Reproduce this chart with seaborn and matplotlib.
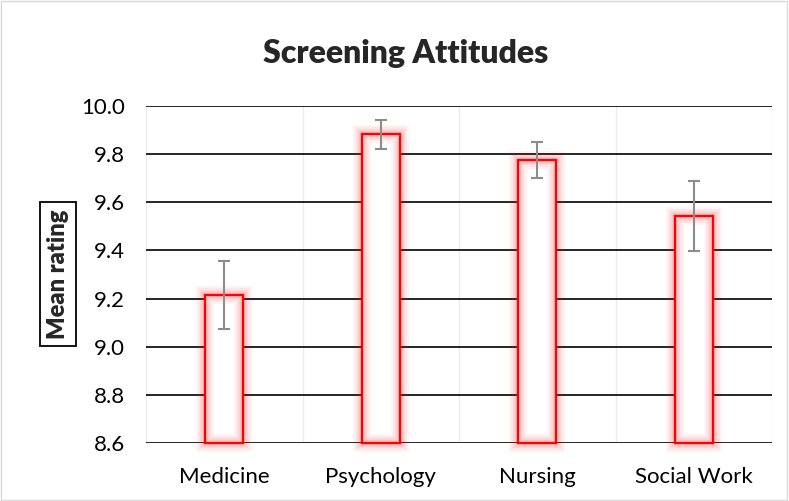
import numpy as np
import pandas as pd
import matplotlib
matplotlib.use("Agg")
import matplotlib.pyplot as plt
import matplotlib.patheffects as pe
from matplotlib.patches import Rectangle
from matplotlib.ticker import FixedLocator, FormatStrFormatter
import seaborn as sns

# datos
categorias = ["Medicine", "Psychology", "Nursing", "Social Work"]
medias = [9.215, 9.882, 9.776, 9.543]
errores = [0.142, 0.061, 0.074, 0.145]
ticks_y = [8.6, 8.8, 9.0, 9.2, 9.4, 9.6, 9.8, 10.0]

df = pd.DataFrame({"Grupo": categorias, "Media": medias})

sns.set_style("white")
plt.rcParams["font.family"] = ["Lato", "DejaVu Sans"]

fig = plt.figure(figsize=(7.89, 5.01), dpi=100)
ax = fig.add_axes([146 / 789, 1 - 443 / 501, (772 - 146) / 789, (443 - 106) / 501])

sns.barplot(data=df, x="Grupo", y="Media", color="white", width=0.24,
            edgecolor="none", linewidth=0, ax=ax, zorder=2)

ymin, ymax = ticks_y[0], ticks_y[-1]

# borde rojo con brillo
glow = [
    pe.Stroke(linewidth=13, foreground=(1, 0, 0, 0.045)),
    pe.Stroke(linewidth=10, foreground=(1, 0, 0, 0.06)),
    pe.Stroke(linewidth=7, foreground=(1, 0, 0, 0.08)),
    pe.Stroke(linewidth=4, foreground=(1, 0, 0, 0.1)),
    pe.Normal(),
]
for p in list(ax.patches):
    r = Rectangle((p.get_x(), ymin), p.get_width(), p.get_y() + p.get_height() - ymin,
                  fill=False, edgecolor="#ff0000", linewidth=1.6, zorder=3,
                  path_effects=glow, clip_on=False)
    ax.add_patch(r)

ax.errorbar(x=np.arange(len(categorias)), y=medias, yerr=errores, fmt="none",
            ecolor="#8c8c8c", elinewidth=1.5, capsize=4.5, capthick=1.5, zorder=4)

ax.set_xlim(-0.5, len(categorias) - 0.5)
ax.set_ylim(ymin, ymax)

# rejilla
ax.yaxis.set_major_locator(FixedLocator(ticks_y))
ax.yaxis.set_major_formatter(FormatStrFormatter("%.1f"))
ax.xaxis.set_minor_locator(FixedLocator(np.arange(len(categorias) + 1) - 0.5))
ax.set_axisbelow(True)
ax.grid(axis="y", which="major", color="black", linewidth=1.2)
ax.grid(axis="x", which="minor", color="#ececec", linewidth=1.0)
for s in ax.spines.values():
    s.set_visible(False)
ax.tick_params(axis="both", which="both", length=0, labelsize=16, colors="black")
ax.tick_params(axis="y", pad=15)
ax.tick_params(axis="x", pad=17)
ax.set_xlabel("")
ax.set_ylabel("")

fig.text(406 / 789, 1 - 53 / 501, "Screening Attitudes", ha="center", va="center",
         fontsize=23, fontweight="heavy")
fig.text(58 / 789, 1 - 274 / 501, "Mean rating", rotation=90, ha="center", va="center",
         fontsize=17, fontweight="heavy",
         bbox=dict(boxstyle="square,pad=0.3", facecolor="white", edgecolor="black", linewidth=1.3))

fig.patches.append(Rectangle((0.001, 0.001), 0.997, 0.997, transform=fig.transFigure,
                             fill=False, edgecolor="#d9d9d9", linewidth=1))

fig.savefig("out.png", dpi=100)
